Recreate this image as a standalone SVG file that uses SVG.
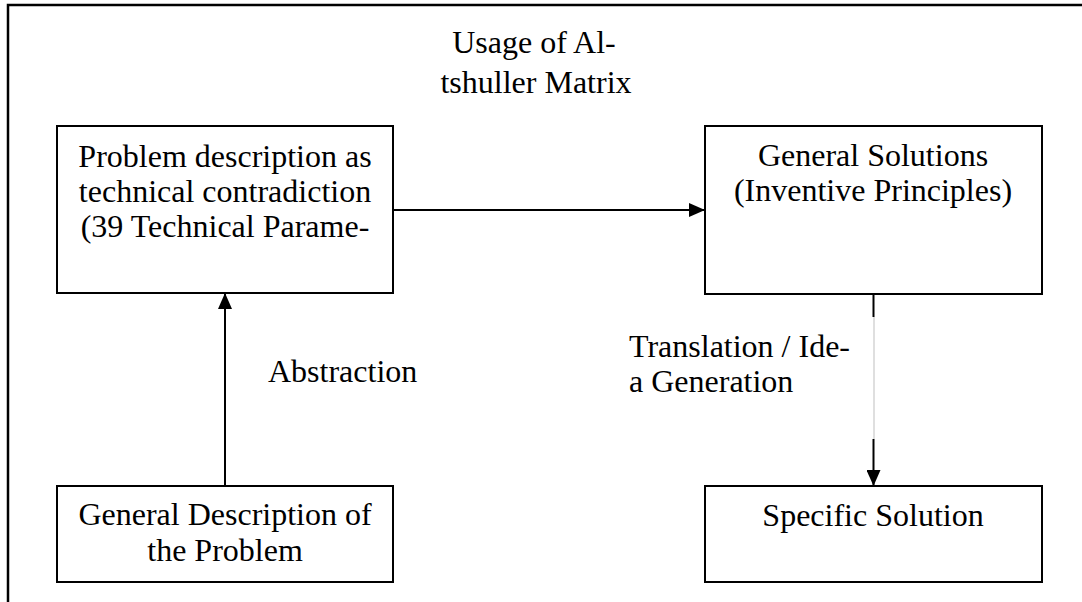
<svg xmlns="http://www.w3.org/2000/svg" width="1082" height="602" viewBox="0 0 1082 602">
<style>
  .box { fill: #ffffff; stroke: #000000; stroke-width: 2; }
  text { font-family: 'Liberation Serif', 'Times New Roman', Times, serif; font-size: 32px; fill: #000000; }
  .c { text-anchor: middle; }
  .line { stroke: #000000; stroke-width: 2; fill: none; }
  .thin { stroke: #bfbfbf; stroke-width: 1; fill: none; }
</style>
<defs>
  <marker id="arrow" markerWidth="16" markerHeight="14" refX="16" refY="7" orient="auto" markerUnits="userSpaceOnUse">
    <path d="M0,0 L16,7 L0,14 Z" fill="#000000"/>
  </marker>
</defs>
<rect x="0" y="0" width="1082" height="602" fill="#ffffff"/>
<g id="frame">
  <path d="M8,602 L8,5 L1082,5" fill="none" stroke="#000000" stroke-width="2.5"/>
</g>
<g id="connectors">
  <line class="line" x1="393" y1="210" x2="705" y2="210" marker-end="url(#arrow)"/>
  <line class="line" x1="225" y1="486" x2="225" y2="293" marker-end="url(#arrow)"/>
  <line class="line" x1="873.5" y1="294" x2="873.5" y2="317"/>
  <line class="thin" x1="874" y1="317" x2="874" y2="439"/>
  <line class="line" x1="873.5" y1="439" x2="873.5" y2="486" marker-end="url(#arrow)"/>
</g>
<g id="label-usage">
  <text class="c" x="534" y="53" font-family="Liberation Serif, serif">Usage of Al-</text>
  <text class="c" x="536" y="93" font-family="Liberation Serif, serif">tshuller Matrix</text>
</g>
<g id="label-abstraction">
  <text x="268" y="382" font-family="Liberation Serif, serif">Abstraction</text>
</g>
<g id="label-translation">
  <text x="629" y="357" font-family="Liberation Serif, serif">Translation / Ide-</text>
  <text x="629" y="392" font-family="Liberation Serif, serif">a Generation</text>
</g>
<g id="node-problem-description">
  <rect class="box" x="57" y="126" width="336" height="167"/>
  <text class="c" x="225" y="167" font-family="Liberation Serif, serif">Problem description as</text>
  <text class="c" x="225" y="202" font-family="Liberation Serif, serif">technical contradiction</text>
  <text class="c" x="225" y="237" font-family="Liberation Serif, serif">(39 Technical Parame-</text>
</g>
<g id="node-general-solutions">
  <rect class="box" x="705" y="126" width="337" height="168"/>
  <text class="c" x="873" y="166" font-family="Liberation Serif, serif">General Solutions</text>
  <text class="c" x="873" y="201" font-family="Liberation Serif, serif">(Inventive Principles)</text>
</g>
<g id="node-general-description">
  <rect class="box" x="57" y="486" width="336" height="96"/>
  <text class="c" x="225" y="525" font-family="Liberation Serif, serif">General Description of</text>
  <text class="c" x="225" y="561" font-family="Liberation Serif, serif">the Problem</text>
</g>
<g id="node-specific-solution">
  <rect class="box" x="705" y="486" width="337" height="96"/>
  <text class="c" x="873" y="526" font-family="Liberation Serif, serif">Specific Solution</text>
</g>
</svg>
